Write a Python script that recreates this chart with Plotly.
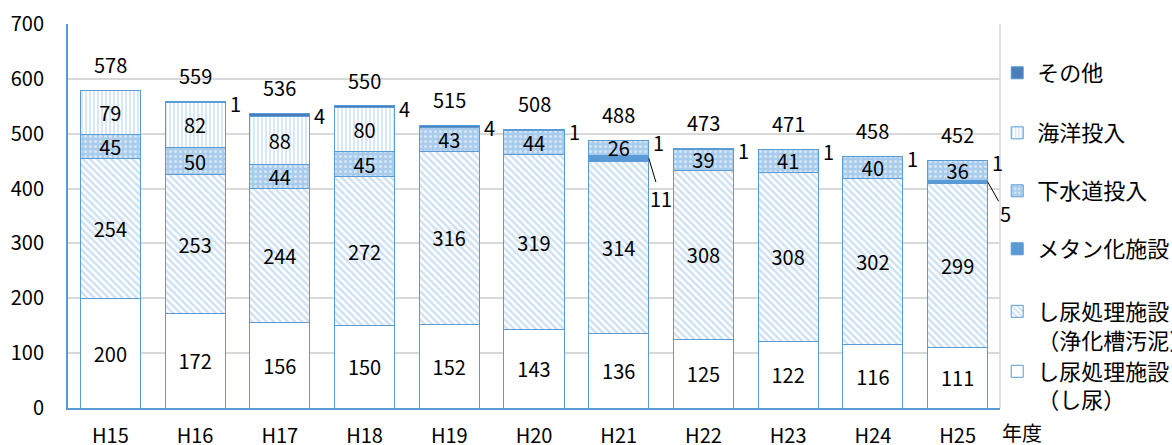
import plotly.graph_objects as go

years = ["H15", "H16", "H17", "H18", "H19", "H20", "H21", "H22", "H23", "H24", "H25"]
shinyo = [200, 172, 156, 150, 152, 143, 136, 125, 122, 116, 111]
jokaso = [254, 253, 244, 272, 316, 319, 314, 308, 308, 302, 299]
methane = [0, 0, 0, 0, 0, 0, 11, 0, 0, 0, 5]
gesui = [45, 50, 44, 45, 43, 44, 26, 39, 41, 40, 36]
kaiyo = [79, 82, 88, 80, 0, 0, 0, 0, 0, 0, 0]
sonota = [0, 1, 4, 4, 4, 1, 1, 1, 1, 1, 1]
totals = [578, 559, 536, 550, 515, 508, 488, 473, 471, 458, 452]
y_ticks = [0, 100, 200, 300, 400, 500, 600, 700]

FONT = "Noto Sans CJK JP"
EDGE = "#5B9BD5"
FS = 20
LFS = 22
# leader-label offsets (pixels) for the small メタン化施設 values
leader_offsets = {"H21": (12, 40), "H25": (18, 32)}

def lbl(vals):
    return [str(v) if v > 0 else "" for v in vals]

fig = go.Figure()

common = dict(x=years, marker_line=dict(color=EDGE, width=1), textposition="inside",
              insidetextanchor="middle", constraintext="none", textangle=0,
              textfont=dict(family=FONT, size=FS, color="black"), hoverinfo="skip",
              showlegend=True)

fig.add_trace(go.Bar(y=shinyo, name="し尿処理施設<br>（し尿）", text=lbl(shinyo),
                     marker=dict(color="white"), legend="legend6", **common))
fig.add_trace(go.Bar(y=jokaso, name="し尿処理施設<br>（浄化槽汚泥）", text=lbl(jokaso),
                     marker=dict(color="white", pattern=dict(shape="\\", fgcolor="#9DC3E6", bgcolor="white",
                                                             size=5, solidity=0.5)),
                     legend="legend5", **common))
fig.add_trace(go.Bar(y=methane, name="メタン化施設", text=["" for _ in methane],
                     marker=dict(color=EDGE), legend="legend4", **common))
fig.add_trace(go.Bar(y=gesui, name="下水道投入", text=lbl(gesui),
                     marker=dict(color="#A9CCEC", pattern=dict(shape=".", fgcolor="white", bgcolor="#A9CCEC",
                                                               size=5, solidity=0.3)),
                     legend="legend3", **common))
fig.add_trace(go.Bar(y=kaiyo, name="海洋投入", text=lbl(kaiyo),
                     marker=dict(color="white", pattern=dict(shape="|", fgcolor="#A9CCEC", bgcolor="white",
                                                             size=4, solidity=0.45)),
                     legend="legend2", **common))
fig.add_trace(go.Bar(y=sonota, name="その他", text=["" for _ in sonota],
                     marker=dict(color="#4A7EBB"), legend="legend", **common))

annotations = []
for i, yr in enumerate(years):
    annotations.append(dict(x=yr, y=totals[i], text=str(totals[i]), showarrow=False,
                            yshift=26, font=dict(family=FONT, size=FS, color="black")))
    if sonota[i] > 0:
        annotations.append(dict(x=yr, y=totals[i], text=str(sonota[i]), showarrow=False,
                                xshift=40, yshift=-2, font=dict(family=FONT, size=FS, color="black")))
    if methane[i] > 0:
        base = shinyo[i] + jokaso[i] + methane[i] / 2
        ax, ay = leader_offsets.get(yr, (15, 36))
        annotations.append(dict(x=yr, y=base, text=str(methane[i]), showarrow=True,
                                arrowhead=0, arrowwidth=1, arrowcolor="black",
                                xshift=30, ax=ax, ay=ay, standoff=0,
                                font=dict(family=FONT, size=FS, color="black")))

annotations.append(dict(x=1.0236, y=-0.0625, xref="paper", yref="paper", text="年度",
                        showarrow=False, xanchor="center", yanchor="middle",
                        font=dict(family=FONT, size=FS, color="black")))

def leg(ycenter):
    return dict(x=0.997, y=ycenter, xanchor="left", yanchor="middle", valign="top",
                font=dict(family=FONT, size=LFS, color="black"), itemwidth=30,
                bgcolor="rgba(0,0,0,0)")

fig.update_layout(
    width=1172, height=445,
    barmode="stack", bargap=0.29, showlegend=True,
    plot_bgcolor="white", paper_bgcolor="white",
    margin=dict(l=68, r=172, t=24, b=37, autoexpand=False),
    font=dict(family=FONT, size=FS, color="black"),
    xaxis=dict(range=[-0.5, len(years) - 0.5], showline=True, linecolor=EDGE, linewidth=2,
               ticks="", showgrid=False,
               tickfont=dict(family=FONT, size=FS), ticklabelstandoff=9, automargin=False),
    yaxis=dict(range=[0, 700], tickvals=y_ticks, showline=True, linecolor=EDGE, linewidth=2,
               gridcolor="#D9D9D9", gridwidth=1.5, ticks="", zeroline=False,
               tickfont=dict(family=FONT, size=FS), ticklabelstandoff=18, automargin=False),
    legend=leg(0.8724),
    legend2=leg(0.7161),
    legend3=leg(0.5651),
    legend4=leg(0.4141),
    legend5=leg(0.2135),
    legend6=leg(0.0573),
    annotations=annotations,
    shapes=[dict(type="line", xref="paper", yref="paper", x0=1, x1=1, y0=0, y1=1,
                 line=dict(color="#D9D9D9", width=1.5))],
)

fig.write_html("out.html", config={"displayModeBar": False},
               post_script="document.body.style.margin='0px';document.body.style.overflow='hidden';")
